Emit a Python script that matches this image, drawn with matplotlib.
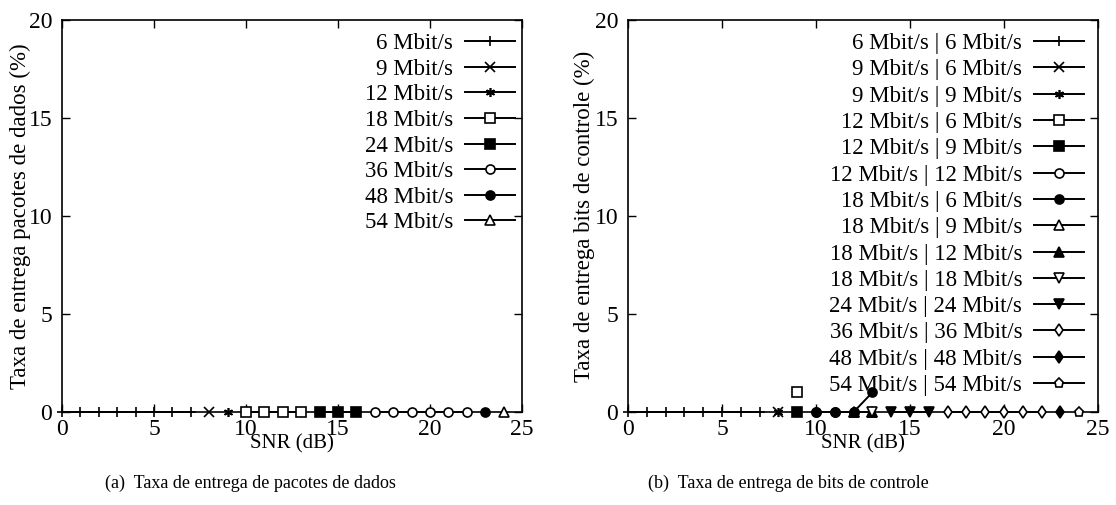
import matplotlib.pyplot as plt

plt.rcParams['font.family'] = ['Liberation Serif', 'DejaVu Serif']

## ------------------------------------------------- DATA -------------------------------------------------
#region

# (a) data packets
data_labels = ["6 Mbit/s", "9 Mbit/s", "12 Mbit/s", "18 Mbit/s",
               "24 Mbit/s", "36 Mbit/s", "48 Mbit/s", "54 Mbit/s"]
data_x = [list(range(0, 8)), [8], [9], [10, 11, 12, 13],
          [14, 15, 16], [17, 18, 19, 20, 21, 22], [23], [24]]
data_y = [[0] * 8, [0], [0], [0, 0, 0, 0],
          [0, 0, 0], [0, 0, 0, 0, 0, 0], [0], [0]]

# (b) control bits
ctrl_labels = ["6 Mbit/s | 6 Mbit/s", "9 Mbit/s | 6 Mbit/s", "9 Mbit/s | 9 Mbit/s",
               "12 Mbit/s | 6 Mbit/s", "12 Mbit/s | 9 Mbit/s", "12 Mbit/s | 12 Mbit/s",
               "18 Mbit/s | 6 Mbit/s", "18 Mbit/s | 9 Mbit/s", "18 Mbit/s | 12 Mbit/s",
               "18 Mbit/s | 18 Mbit/s", "24 Mbit/s | 24 Mbit/s", "36 Mbit/s | 36 Mbit/s",
               "48 Mbit/s | 48 Mbit/s", "54 Mbit/s | 54 Mbit/s"]
ctrl_x = [list(range(0, 8)), [8], [8], [9], [9], [10, 11, 12],
          [10, 11, 12, 13], [12, 13], [12, 13], [13], [14, 15, 16],
          [17, 18, 19, 20, 21, 22], [23], [24]]
ctrl_y = [[0] * 8, [0], [0], [1], [0], [0, 0, 0],
          [0, 0, 0, 1], [0, 0], [0, 0], [0], [0, 0, 0],
          [0, 0, 0, 0, 0, 0], [0], [0]]

#endregion

## ------------------------------------------------- STYLES -------------------------------------------------
#region

STAR = (6, 2, 0)
# (marker, filled)
data_marks = [("+", True), ("x", True), (STAR, True), ("s", False),
              ("s", True), ("o", False), ("o", True), ("^", False)]
ctrl_marks = [("+", True), ("x", True), (STAR, True), ("s", False), ("s", True),
              ("o", False), ("o", True), ("^", False), ("^", True), ("v", False),
              ("v", True), ("d", False), ("d", True), ("p", False)]

W, H = 1116, 505

#endregion


def draw(ax, xs, ys, labels, marks, ylabel, ylab_x, leg_anchor, spacing):
    for x, y, lab, (m, filled) in zip(xs, ys, labels, marks):
        ax.plot(x, y, color="black", lw=1.4, marker=m, markersize=6.5,
                markeredgewidth=1.2, markerfacecolor="black" if filled else "white",
                label=lab, clip_on=False, zorder=3)
    ax.set_xlim(0, 25)
    ax.set_ylim(0, 20)
    ax.set_xticks([0, 5, 10, 15, 20, 25])
    ax.set_yticks([0, 5, 10, 15, 20])
    ax.tick_params(direction="in", top=True, right=True, length=6, width=1,
                   labelsize=17)
    ax.tick_params(axis="x", pad=5)
    ax.tick_params(axis="y", pad=7)
    for s in ax.spines.values():
        s.set_linewidth(1.2)
    ax.set_xlabel("SNR (dB)", fontsize=15)
    ax.xaxis.set_label_coords(0.5, -22 / 392, transform=ax.transAxes)
    ax.set_ylabel(ylabel, fontsize=16.5)
    ax.yaxis.set_label_coords(ylab_x, 0.5, transform=ax.transAxes)
    leg = ax.legend(loc="upper right", frameon=False, fontsize=16.5,
                    markerfirst=False, handlelength=2.2, handletextpad=0.5,
                    labelspacing=spacing, borderaxespad=0, borderpad=0,
                    bbox_to_anchor=leg_anchor, bbox_transform=fig.transFigure)
    leg._legend_box.align = "right"


fig = plt.figure(figsize=(W / 100, H / 100), dpi=100)
ax1 = fig.add_axes([62 / W, 1 - 412 / H, 460 / W, 392 / H])
ax2 = fig.add_axes([628 / W, 1 - 412 / H, 470 / W, 392 / H])

draw(ax1, data_x, data_y, data_labels, data_marks,
     "Taxa de entrega pacotes de dados (%)", (31 - 62) / 460,
     (515 / W, 1 - 33 / H), 0.2)
draw(ax2, ctrl_x, ctrl_y, ctrl_labels, ctrl_marks,
     "Taxa de entrega bits de controle (%)", (595 - 628) / 470,
     (1084 / W, 1 - 33 / H), 0.23)

fig.text(250 / W, 1 - 483 / H, "(a)  Taxa de entrega de pacotes de dados",
         ha="center", va="center", fontsize=13)
fig.text(788 / W, 1 - 483 / H, "(b)  Taxa de entrega de bits de controle",
         ha="center", va="center", fontsize=13)

fig.savefig("out.png", dpi=100)
